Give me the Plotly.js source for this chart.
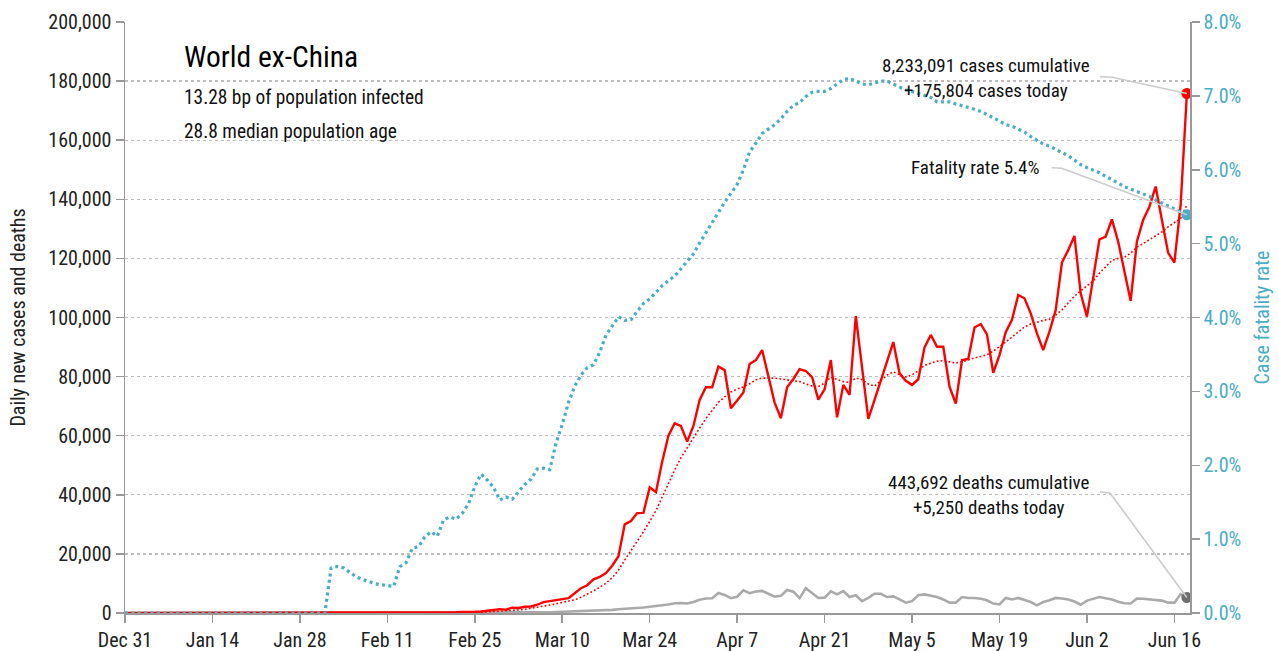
<!DOCTYPE html>
<html>
<head>
<meta charset="utf-8">
<script src="https://cdn.plot.ly/plotly-3.0.1.min.js"></script>
<style>html,body{margin:0;padding:0;background:#fff;}#chart{width:1278px;height:651px;}</style>
</head>
<body>
<div id="chart"></div>
<script>
// ---- data (one value per day, starting 2019-12-31) ----
const START_DATE = '2019-12-31';

const dailyCases = [
0,0,0,0,0,0,0,0,0,0,
0,0,0,1,0,1,0,0,1,2,
3,5,3,7,12,10,15,20,17,16,
20,25,20,15,20,25,30,40,30,25,
35,20,40,15,40,10,60,50,70,40,
30,80,200,250,350,300,400,500,750,1000,
1300,1100,1800,1700,2100,2200,2800,3700,4000,4200,
4600,5000,6700,8400,9400,11400,12200,13500,16000,19200,
30000,31100,33800,33900,42500,40900,51200,60000,64200,63300,
58000,63300,72100,76400,76400,83400,82200,69300,71900,74600,
84300,85600,89000,80200,71200,65900,76400,79200,82500,81900,
79800,72200,75700,85600,66200,77200,73800,100500,83400,65700,
72100,78800,84700,91700,81100,78600,77200,79100,89900,94100,
90100,90100,76600,70900,85600,86000,96600,97800,94300,81300,
87300,95000,99200,107600,106500,101400,94600,89000,95200,102500,
118600,122800,127600,108200,100300,112700,126400,127400,133200,125700,
116100,105600,125700,133000,137500,144300,133000,121900,118600,138000,
175804];

const casesAvg7 = [
0,0,0,0,0,0,0,0,0,0,
0,0,0,0,0,0,0,0,0,1,
1,2,2,3,5,6,8,10,12,14,
16,18,19,19,19,20,22,25,26,26,
28,28,30,30,32,30,31,33,40,41,
43,50,70,90,125,155,200,270,360,470,
610,720,870,1050,1250,1550,1900,2300,2700,3100,
3500,3900,4500,5300,6300,7500,8700,10100,11900,14500,
17900,21000,24300,27500,31000,34600,39200,44000,48400,52500,
56000,59300,62600,65800,68400,71300,73100,74800,75800,76500,
77600,78900,79500,79600,79500,79200,78900,78600,78300,77500,
76800,76600,77800,79800,79000,78300,78000,79500,79000,77500,
76800,78500,80500,81600,80800,79800,80600,82000,83800,84500,
85200,85400,85000,84600,85000,85700,86300,86800,87400,88600,
90000,91700,93400,95200,96800,97800,98500,99000,99400,100800,
102600,104800,107200,109000,110800,112400,115000,117200,119300,120000,
120400,121800,123800,125000,126300,127600,129000,130700,132000,133500,
138100];

const dailyDeaths = [
0,0,0,0,0,0,0,0,0,0,
0,0,0,0,0,0,0,0,0,0,
0,0,0,0,0,0,0,0,0,0,
0,0,0,1,0,0,0,0,0,0,
0,0,0,1,0,1,0,0,0,1,
2,3,5,8,10,12,15,20,25,35,
45,55,70,90,110,140,180,220,270,330,
380,440,500,600,680,780,850,950,1050,1250,
1350,1600,1700,1850,2100,2300,2500,2900,3300,3400,
3200,3700,4500,4900,5000,6800,6100,5000,5500,7700,
6700,7300,7500,6500,5500,5800,7800,7200,5000,8400,
6600,5100,5200,7300,6300,7400,5400,6000,4000,5100,
6500,6500,5400,5600,4600,3500,4000,6000,6300,5800,
5400,4600,3500,3500,5400,5100,5100,4800,4300,3200,
2900,5100,4600,5100,4500,3700,2600,3700,4300,5100,
4900,4600,3900,2800,4200,4800,5400,5000,4600,3800,
3300,3200,4900,4800,4600,4600,4200,3500,3500,6400,
5250];

const fatalityRatePct = [
0,0,0,0,0,0,0,0,0,0,
0,0,0,0,0,0,0,0,0,0,
0,0,0,0,0,0,0,0,0,0,
0,0,0,0.61,0.63,0.61,0.55,0.49,0.456,0.424,
0.397,0.383,0.37,0.36,0.627,0.68,0.875,0.90,1.03,1.10,
1.04,1.26,1.30,1.27,1.35,1.48,1.71,1.88,1.80,1.70,
1.53,1.57,1.54,1.64,1.74,1.81,1.95,1.96,1.94,2.30,
2.55,2.85,3.07,3.22,3.32,3.36,3.53,3.76,3.88,4.01,
3.96,3.97,4.08,4.19,4.25,4.34,4.43,4.50,4.56,4.66,
4.76,4.86,5.01,5.15,5.28,5.42,5.56,5.68,5.80,6.00,
6.24,6.36,6.49,6.55,6.61,6.69,6.79,6.87,6.91,6.99,
7.05,7.06,7.06,7.10,7.16,7.22,7.24,7.20,7.16,7.15,
7.18,7.20,7.20,7.16,7.11,7.08,7.06,7.03,7.00,6.98,
6.92,6.92,6.92,6.89,6.87,6.85,6.82,6.79,6.75,6.71,
6.66,6.61,6.59,6.55,6.51,6.45,6.40,6.35,6.32,6.28,
6.23,6.19,6.13,6.07,6.03,6.00,5.96,5.91,5.87,5.82,
5.77,5.74,5.70,5.68,5.64,5.59,5.55,5.51,5.47,5.42,
5.39];

const xTickVals = ['2019-12-31','2020-01-14','2020-01-28','2020-02-11','2020-02-25','2020-03-10','2020-03-24','2020-04-07','2020-04-21','2020-05-05','2020-05-19','2020-06-02','2020-06-16'];
const xTickText = ['Dec 31','Jan 14','Jan 28','Feb 11','Feb 25','Mar 10','Mar 24','Apr 7','Apr 21','May 5','May 19','Jun 2','Jun 16'];

const titleText = 'World ex-China';
const subtitle1 = '13.28 bp of population infected';
const subtitle2 = '28.8 median population age';
const casesNote = '8,233,091 cases cumulative<br>+175,804 cases today';
const deathsNote = '443,692 deaths cumulative<br>+5,250 deaths today';
const rateNote = 'Fatality rate 5.4%';

// ---- build dates ----
const DAY = 86400000;
const t0 = Date.parse(START_DATE + 'T00:00:00Z');
const dates = dailyCases.map((_, i) => new Date(t0 + i * DAY).toISOString().slice(0, 10));
const lastIdx = dates.length - 1;
const lastDate = dates[lastIdx];

const X_RANGE = ['2019-12-31', '2020-06-18 12:00'];
const Y_MAX = 200000, Y2_MAX = 8;

const FONT = '"Roboto Condensed", "DejaVu Sans Condensed", Roboto, sans-serif';
const RED = '#ff0000', BLUE = '#4bacc6', GREY = '#aaaaaa', TXT = '#111111', AX = '#999999';

const traces = [
  { x: dates, y: fatalityRatePct, yaxis: 'y2', type: 'scatter', mode: 'lines',
    line: { color: BLUE, width: 3.2, dash: '3px,3.4px' }, hoverinfo: 'skip' },
  { x: dates, y: dailyDeaths, type: 'scatter', mode: 'lines',
    line: { color: GREY, width: 2.6 }, hoverinfo: 'skip' },
  { x: dates, y: casesAvg7, type: 'scatter', mode: 'lines',
    line: { color: RED, width: 1.6, dash: '1.8px,2.2px' }, hoverinfo: 'skip' },
  { x: dates, y: dailyCases, type: 'scatter', mode: 'lines',
    line: { color: RED, width: 2.4 }, hoverinfo: 'skip' },
  { x: [lastDate], y: [dailyCases[lastIdx]], type: 'scatter', mode: 'markers',
    marker: { color: RED, size: 11 }, hoverinfo: 'skip' },
  { x: [lastDate], y: [fatalityRatePct[lastIdx]], yaxis: 'y2', type: 'scatter', mode: 'markers',
    marker: { color: BLUE, size: 11 }, hoverinfo: 'skip' },
  { x: [lastDate], y: [dailyDeaths[lastIdx]], type: 'scatter', mode: 'markers',
    marker: { color: '#6e6e6e', size: 11 }, hoverinfo: 'skip' }
];

// paper coordinates of the last points for leader lines
const xr0 = Date.parse(X_RANGE[0].replace(' ', 'T') + 'Z');
const xr1 = Date.parse(X_RANGE[1].replace(' ', 'T') + 'Z');
const px = (Date.parse(lastDate + 'T00:00:00Z') - xr0) / (xr1 - xr0);
const pyCases = dailyCases[lastIdx] / Y_MAX;
const pyRate = fatalityRatePct[lastIdx] / Y2_MAX;
const pyDeaths = dailyDeaths[lastIdx] / Y_MAX;

function leader(xa, ya, xb, yb, xc, yc) {
  return { type: 'path', xref: 'paper', yref: 'paper',
    path: `M ${xa} ${ya} L ${xb} ${yb} L ${xc} ${yc}`,
    line: { color: '#cccccc', width: 1.6 }, layer: 'above' };
}

const layout = {
  width: 1278, height: 651,
  margin: { l: 125, r: 88, t: 22, b: 38 },
  paper_bgcolor: '#ffffff', plot_bgcolor: '#ffffff',
  showlegend: false,
  font: { family: FONT, size: 19, color: TXT },
  xaxis: {
    type: 'date', range: X_RANGE,
    tickvals: xTickVals, ticktext: xTickText,
    showgrid: false, zeroline: false,
    showline: true, linecolor: AX, linewidth: 1.5,
    ticks: 'outside', ticklen: 8, tickcolor: AX, tickwidth: 1.5,
    tickfont: { family: FONT, size: 20, color: '#222' }
  },
  yaxis: {
    range: [0, Y_MAX], dtick: 20000, tickformat: ',d',
    showgrid: true, gridcolor: '#bdbdbd', griddash: 'dot', gridwidth: 1.4,
    zeroline: false, showline: true, linecolor: AX, linewidth: 1.5,
    ticks: 'outside', ticklen: 8, tickcolor: AX, tickwidth: 1.5,
    tickfont: { family: FONT, size: 20, color: '#222' },
    title: { text: 'Daily new cases and deaths', font: { family: FONT, size: 20, color: '#222' }, standoff: 17 }
  },
  yaxis2: {
    overlaying: 'y', side: 'right', anchor: 'x',
    range: [0, Y2_MAX], dtick: 1, tickformat: '.1f', ticksuffix: '%',
    showgrid: false, zeroline: false,
    showline: true, linecolor: AX, linewidth: 1.5,
    ticks: 'outside', ticklen: 8, tickcolor: AX, tickwidth: 1.5,
    tickfont: { family: FONT, size: 20, color: BLUE },
    title: { text: 'Case fatality rate', font: { family: FONT, size: 20, color: BLUE }, standoff: 15 }
  },
  annotations: [
    { text: titleText, xref: 'paper', yref: 'paper', x: 0.0535, y: 0.941, xanchor: 'left', yanchor: 'middle',
      showarrow: false, font: { family: FONT, size: 29.5, color: '#000' } },
    { text: subtitle1, xref: 'paper', yref: 'paper', x: 0.0535, y: 0.873, xanchor: 'left', yanchor: 'middle',
      showarrow: false, font: { family: FONT, size: 19.4, color: TXT } },
    { text: subtitle2, xref: 'paper', yref: 'paper', x: 0.0535, y: 0.814, xanchor: 'left', yanchor: 'middle',
      showarrow: false, font: { family: FONT, size: 19.4, color: TXT } },
    { text: casesNote, xref: 'paper', yref: 'paper', x: 0.8085, y: 0.905, xanchor: 'center', yanchor: 'middle', align: 'center',
      showarrow: false, font: { family: FONT, size: 19, color: TXT } },
    { text: rateNote, xref: 'paper', yref: 'paper', x: 0.860, y: 0.753, xanchor: 'right', yanchor: 'middle',
      showarrow: false, font: { family: FONT, size: 19, color: TXT } },
    { text: deathsNote, xref: 'paper', yref: 'paper', x: 0.811, y: 0.2005, xanchor: 'center', yanchor: 'middle', align: 'center',
      showarrow: false, font: { family: FONT, size: 19, color: TXT } }
  ],
  shapes: [
    leader(0.9155, 0.9075, 0.9268, 0.9065, px, pyCases),
    leader(0.8702, 0.7535, 0.8796, 0.7525, px, pyRate),
    leader(0.9155, 0.2047, 0.9249, 0.2030, px, pyDeaths)
  ]
};

Plotly.newPlot('chart', traces, layout, { displayModeBar: false, staticPlot: true });
</script>
</body>
</html>
